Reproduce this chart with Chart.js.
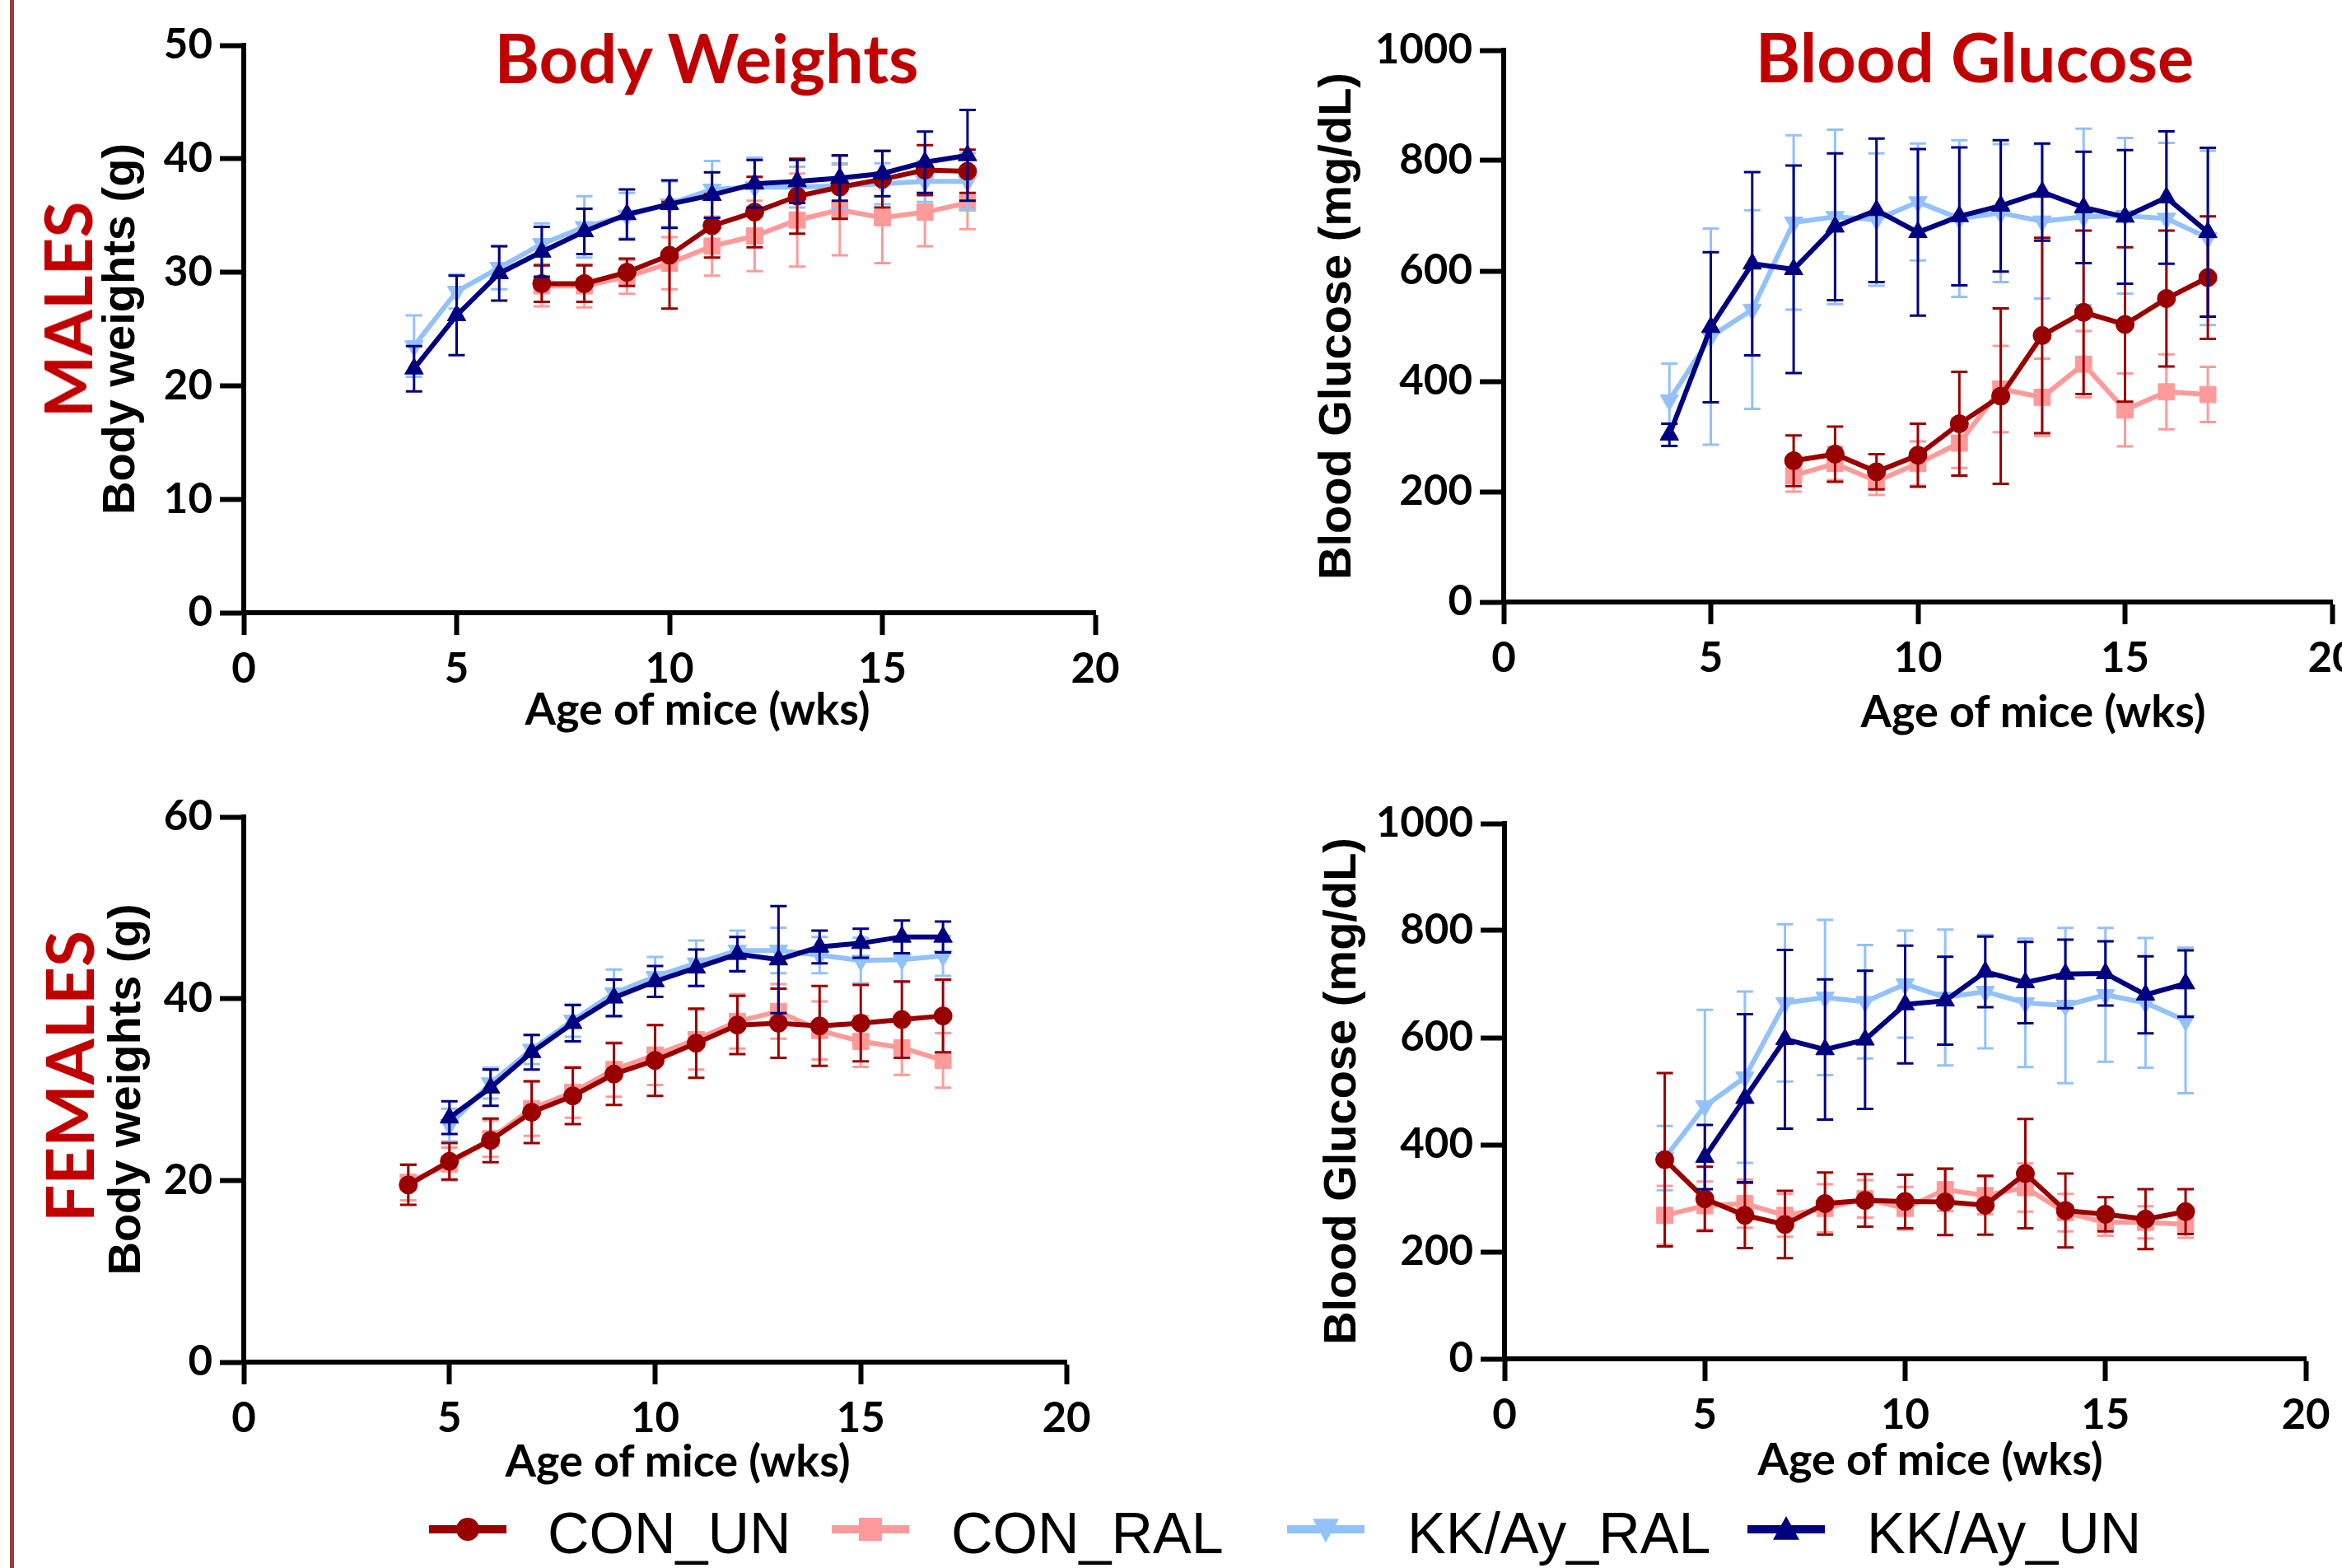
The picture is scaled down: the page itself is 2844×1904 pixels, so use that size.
<!DOCTYPE html>
<html>
<head>
<meta charset="utf-8">
<title>Body weights and blood glucose of mice</title>
<script src="https://cdn.jsdelivr.net/npm/chart.js@4.4.1/dist/chart.umd.min.js"></script>
<style>
  html, body { margin: 0; padding: 0; background: #fff; }
  body { width: 2844px; height: 1904px; overflow: hidden; position: relative; }
  canvas { position: absolute; }
  .txt { position: absolute; white-space: nowrap; line-height: 1; }
  .side-rule { position: absolute; left: 12px; top: 0; width: 5px; height: 1904px; background: #9e3a3a; }
  .panel-title { font: 700 83px Lato, sans-serif; color: #c00000; transform: translateX(-50%); }
  .row-label { font: 700 80px Lato, sans-serif; color: #c00000; transform: translate(-50%, -50%) rotate(-90deg); }
  .axis-title { font: 700 54px Lato, sans-serif; color: #000; transform: translateX(-50%); }
  .legend-text { font: 400 70px "Liberation Sans", Arial, sans-serif; color: #000; }
  svg { position: absolute; }
</style>
</head>
<body>
<div class="side-rule"></div>

<canvas id="maleWeight" width="1300" height="900" style="left:100px;top:0px"></canvas>
<canvas id="maleGlucose" width="1400" height="900" style="left:1500px;top:0px"></canvas>
<canvas id="femaleWeight" width="1300" height="880" style="left:100px;top:930px"></canvas>
<canvas id="femaleGlucose" width="1344" height="880" style="left:1500px;top:930px"></canvas>

<div class="txt panel-title" style="left:858px;top:19px">Body Weights</div>
<div class="txt panel-title" style="left:2398px;top:18px">Blood Glucose</div>
<div class="txt row-label" style="left:81px;top:376px">MALES</div>
<div class="txt row-label" style="left:83px;top:1307px">FEMALES</div>
<div class="txt axis-title" style="left:847px;top:827px">Age of mice (wks)</div>
<div class="txt axis-title" style="left:2469px;top:830px">Age of mice (wks)</div>
<div class="txt axis-title" style="left:823px;top:1740px">Age of mice (wks)</div>
<div class="txt axis-title" style="left:2344px;top:1738px">Age of mice (wks)</div>
<div id="legend"></div>

<script>
// weeks measured (age of mice)
const weeks = [4, 5, 6, 7, 8, 9, 10, 11, 12, 13, 14, 15, 16, 17];
const xTicks = [0, 5, 10, 15, 20];
const groups = ['CON_UN', 'CON_RAL', 'KK/Ay_RAL', 'KK/Ay_UN'];

// males - body weight (g), mean and SD
const maleWeightConUn = [null, null, null, 29.0, 29.0, 30.0, 31.5, 34.1, 35.3, 36.7, 37.5, 38.2, 39.0, 38.9];
const maleWeightConUnSd = [null, null, null, 1.6, 1.6, 1.2, 4.7, 2.8, 3.1, 3.3, 2.8, 2.5, 2.2, 1.9];
const maleWeightConRal = [null, null, null, 28.8, 28.8, 29.6, 30.8, 32.3, 33.2, 34.6, 35.5, 34.8, 35.3, 36.1];
const maleWeightConRalSd = [null, null, null, 1.8, 1.9, 1.5, 2.3, 2.6, 3.1, 4.1, 4.0, 4.0, 3.0, 2.3];
const maleWeightKkRal = [23.5, 28.3, 30.4, 32.5, 34.0, 35.0, 36.0, 37.3, 37.5, 37.5, 37.6, 37.8, 38.0, 38.0];
const maleWeightKkRalSd = [2.7, 1.5, 1.9, 1.8, 2.7, 2.0, 2.0, 2.5, 2.6, 1.8, 2.0, 1.8, 1.8, 2.5];
const maleWeightKkUn = [21.5, 26.2, 29.9, 31.8, 33.6, 35.1, 36.0, 36.8, 37.8, 38.0, 38.3, 38.7, 39.7, 40.3];
const maleWeightKkUnSd = [2.0, 3.5, 2.4, 2.2, 2.0, 2.2, 2.1, 2.0, 2.1, 1.9, 2.0, 2.0, 2.7, 4.0];

// males - blood glucose (mg/dL)
const maleGlucoseConUn = [null, null, null, 256, 268, 236, 266, 323, 373, 483, 525, 503, 550, 588];
const maleGlucoseConUnSd = [null, null, null, 46, 50, 32, 57, 94, 159, 177, 148, 140, 123, 111];
const maleGlucoseConRal = [null, null, null, 229, 251, 219, 251, 288, 386, 371, 431, 348, 381, 376];
const maleGlucoseConRalSd = [null, null, null, 29, 30, 25, 40, 45, 78, 70, 60, 66, 68, 50];
const maleGlucoseKkRal = [366, 481, 530, 688, 698, 693, 725, 695, 705, 690, 698, 700, 695, 660];
const maleGlucoseKkRalSd = [66, 196, 180, 158, 158, 120, 106, 142, 125, 140, 160, 141, 137, 158];
const maleGlucoseKkUn = [303, 498, 613, 603, 680, 710, 670, 699, 718, 743, 715, 698, 733, 670];
const maleGlucoseKkUnSd = [20, 136, 166, 188, 133, 130, 151, 125, 119, 88, 101, 121, 120, 153];

// females - body weight (g)
const femaleWeightConUn = [19.5, 22.1, 24.4, 27.5, 29.3, 31.7, 33.2, 35.1, 37.1, 37.3, 37.0, 37.3, 37.7, 38.1];
const femaleWeightConUnSd = [2.2, 2.0, 2.4, 3.4, 3.1, 3.4, 3.9, 3.8, 3.2, 3.8, 4.4, 4.2, 4.2, 4.0];
const femaleWeightConRal = [19.8, 21.8, 24.6, 27.9, 29.7, 32.2, 33.8, 35.5, 37.5, 38.6, 36.5, 35.3, 34.6, 33.2];
const femaleWeightConRalSd = [2.0, 1.8, 2.0, 3.0, 2.8, 3.0, 3.3, 3.3, 3.0, 3.0, 3.2, 2.8, 3.0, 3.0];
const femaleWeightKkRal = [null, 26.1, 30.7, 34.4, 37.6, 40.6, 42.4, 43.9, 45.3, 45.3, 44.8, 44.2, 44.3, 44.7];
const femaleWeightKkRalSd = [null, 1.8, 1.7, 1.6, 1.8, 2.6, 2.2, 2.5, 2.2, 2.5, 2.0, 2.5, 2.5, 2.2];
const femaleWeightKkUn = [null, 26.9, 30.2, 34.1, 37.3, 40.1, 41.9, 43.4, 44.9, 44.3, 45.7, 46.1, 46.8, 46.8];
const femaleWeightKkUnSd = [null, 1.8, 2.0, 1.9, 2.0, 2.0, 1.7, 2.0, 1.9, 5.9, 1.8, 1.6, 1.8, 1.7];

// females - blood glucose (mg/dL)
const femaleGlucoseConUn = [372, 299, 268, 251, 290, 296, 294, 293, 287, 346, 277, 270, 261, 275];
const femaleGlucoseConUnSd = [162, 60, 61, 63, 58, 49, 50, 62, 55, 102, 69, 32, 56, 42];
const femaleGlucoseConRal = [268, 286, 290, 268, 281, 299, 281, 316, 305, 320, 273, 255, 255, 251];
const femaleGlucoseConRalSd = [55, 45, 45, 40, 45, 35, 40, 40, 35, 45, 35, 25, 30, 25];
const femaleGlucoseKkRal = [375, 472, 526, 665, 675, 667, 700, 675, 686, 665, 660, 680, 665, 632];
const femaleGlucoseKkRalSd = [60, 180, 160, 147, 145, 106, 100, 127, 106, 120, 145, 125, 121, 136];
const femaleGlucoseKkUn = [null, 377, 487, 597, 578, 596, 662, 669, 723, 703, 719, 720, 680, 701];
const femaleGlucoseKkUnSd = [null, 60, 157, 167, 131, 129, 110, 82, 66, 76, 64, 60, 72, 62];

// look of each group (lower order = drawn on top)
const groupStyles = {
    'CON_UN': { color: '#990000', shape: 'circle', radius: 11, rotation: 0, order: 1 },
    'CON_RAL': { color: '#ff9a9a', shape: 'rect', radius: 14, rotation: 0, order: 3 },
    'KK/Ay_RAL': { color: '#93c1fa', shape: 'triangle', radius: 13, rotation: 180, order: 2 },
    'KK/Ay_UN': { color: '#000080', shape: 'triangle', radius: 13, rotation: 0, order: 0 }
};

const tickFont = { family: 'Lato', size: 51, weight: 'bold' };
const titleFont = { family: "'Liberation Sans', Arial", size: 56, weight: 'bold' };

//Error bar plugin, drawn under each dataset's line and markers
const errorBars = {
    id: 'errorBars',
    beforeDatasetDraw(chart, args) {
        const ds = chart.data.datasets[args.index];
        const yScale = chart.scales.y;
        const ctx = chart.ctx;
        const cap = 10;
        ctx.save();
        ctx.strokeStyle = ds.borderColor;
        ctx.lineWidth = 3;
        args.meta.data.forEach((pt, i) => {
            const d = ds.data[i];
            if (d.sd == null) return;
            const top = yScale.getPixelForValue(d.y + d.sd);
            const bottom = yScale.getPixelForValue(d.y - d.sd);
            ctx.beginPath();
            ctx.moveTo(pt.x, top);
            ctx.lineTo(pt.x, bottom);
            ctx.moveTo(pt.x - cap, top);
            ctx.lineTo(pt.x + cap, top);
            ctx.moveTo(pt.x - cap, bottom);
            ctx.lineTo(pt.x + cap, bottom);
            ctx.stroke();
        });
        ctx.restore();
    }
};

function toPoints(means, sds) {
    const points = [];
    weeks.forEach((w, i) => {
        if (means[i] !== null) {
            points.push({ x: w, y: means[i], sd: sds[i] });
        }
    });
    return points;
}

function makeDataset(name, means, sds) {
    const s = groupStyles[name];
    return {
        label: name,
        data: toPoints(means, sds),
        borderColor: s.color,
        backgroundColor: s.color,
        borderWidth: 6,
        pointStyle: s.shape,
        pointRadius: s.radius,
        pointRotation: s.rotation,
        pointBorderWidth: 1,
        pointBackgroundColor: s.color,
        pointBorderColor: s.color,
        tension: 0,
        order: s.order
    };
}

function makePanel(id, datasets, yMax, yStep, yTitle, box) {
    const ctx = document.getElementById(id).getContext('2d');
    return new Chart(ctx, {
        type: 'line',
        data: { datasets: datasets },
        plugins: [errorBars],
        options: {
            responsive: false,
            animation: false,
            devicePixelRatio: 1,
            layout: { padding: { left: 0, top: box.top, right: box.right, bottom: 0 } },
            plugins: { legend: { display: false }, tooltip: { enabled: false } },
            scales: {
                x: {
                    type: 'linear',
                    min: 0,
                    max: 20,
                    afterBuildTicks: (scale) => { scale.ticks = xTicks.map(v => ({ value: v })); },
                    afterFit: (scale) => { scale.height = box.xHeight; },
                    grid: { drawOnChartArea: false, tickLength: 27, tickWidth: 6, tickColor: '#000' },
                    border: { display: true, color: '#000', width: 6 },
                    ticks: { color: '#000', font: tickFont, padding: 11, maxRotation: 0, callback: v => String(v) }
                },
                y: {
                    min: 0,
                    max: yMax,
                    ticks: { stepSize: yStep, color: '#000', font: tickFont, padding: 9, callback: v => String(v) },
                    afterFit: (scale) => { scale.width = box.yWidth; },
                    grid: { drawOnChartArea: false, tickLength: 29, tickWidth: 6, tickColor: '#000' },
                    border: { display: true, color: '#000', width: 6 },
                    title: { display: true, text: yTitle, color: '#000', font: titleFont, padding: { top: box.titlePad, bottom: 0 } }
                }
            }
        }
    });
}

makePanel('maleWeight', [
    makeDataset('CON_UN', maleWeightConUn, maleWeightConUnSd),
    makeDataset('CON_RAL', maleWeightConRal, maleWeightConRalSd),
    makeDataset('KK/Ay_RAL', maleWeightKkRal, maleWeightKkRalSd),
    makeDataset('KK/Ay_UN', maleWeightKkUn, maleWeightKkUnSd)
], 50, 10, 'Body weights (g)', { top: 55, right: 70, yWidth: 196, xHeight: 156, titlePad: 14 });

makePanel('maleGlucose', [
    makeDataset('CON_UN', maleGlucoseConUn, maleGlucoseConUnSd),
    makeDataset('CON_RAL', maleGlucoseConRal, maleGlucoseConRalSd),
    makeDataset('KK/Ay_RAL', maleGlucoseKkRal, maleGlucoseKkRalSd),
    makeDataset('KK/Ay_UN', maleGlucoseKkUn, maleGlucoseKkUnSd)
], 1000, 200, 'Blood Glucose (mg/dL)', { top: 61, right: 68, yWidth: 326, xHeight: 169, titlePad: 91 });

makePanel('femaleWeight', [
    makeDataset('CON_UN', femaleWeightConUn, femaleWeightConUnSd),
    makeDataset('CON_RAL', femaleWeightConRal, femaleWeightConRalSd),
    makeDataset('KK/Ay_RAL', femaleWeightKkRal, femaleWeightKkRalSd),
    makeDataset('KK/Ay_UN', femaleWeightKkUn, femaleWeightKkUnSd)
], 60, 20, 'Body weights (g)', { top: 62, right: 105, yWidth: 196, xHeight: 156, titlePad: 21 });

makePanel('femaleGlucose', [
    makeDataset('CON_UN', femaleGlucoseConUn, femaleGlucoseConUnSd),
    makeDataset('CON_RAL', femaleGlucoseConRal, femaleGlucoseConRalSd),
    makeDataset('KK/Ay_RAL', femaleGlucoseKkRal, femaleGlucoseKkRalSd),
    makeDataset('KK/Ay_UN', femaleGlucoseKkUn, femaleGlucoseKkUnSd)
], 1000, 200, 'Blood Glucose (mg/dL)', { top: 70, right: 44, yWidth: 327, xHeight: 160, titlePad: 97 });

//Shared legend along the bottom
const legendLineX = [521, 1010, 1563, 2122];
const legendTextX = [665, 1155, 1709, 2267];
const legendY = 1857;

function markerSvg(s, cx, cy) {
    const r = 14;
    if (s.shape === 'circle') {
        return `<circle cx="${cx}" cy="${cy}" r="${r}" fill="${s.color}"/>`;
    }
    if (s.shape === 'rect') {
        return `<rect x="${cx - r}" y="${cy - r}" width="${2 * r}" height="${2 * r}" fill="${s.color}"/>`;
    }
    const h = 16;
    const pts = s.rotation === 180
        ? `${cx - h},${cy - h * 0.8} ${cx + h},${cy - h * 0.8} ${cx},${cy + h}`
        : `${cx - h},${cy + h * 0.8} ${cx + h},${cy + h * 0.8} ${cx},${cy - h}`;
    return `<polygon points="${pts}" fill="${s.color}"/>`;
}

const legendEl = document.getElementById('legend');
groups.forEach((name, i) => {
    const s = groupStyles[name];
    const svg = `<svg width="96" height="40" style="left:${legendLineX[i]}px;top:${legendY - 20}px">` +
        `<line x1="0" y1="20" x2="94" y2="20" stroke="${s.color}" stroke-width="10"/>` +
        markerSvg(s, 47, 20) + `</svg>`;
    legendEl.insertAdjacentHTML('beforeend', svg);
    const label = document.createElement('div');
    label.className = 'txt legend-text';
    label.style.left = legendTextX[i] + 'px';
    label.style.top = (legendY - 35) + 'px';
    label.textContent = name;
    legendEl.appendChild(label);
});
</script>
</body>
</html>
